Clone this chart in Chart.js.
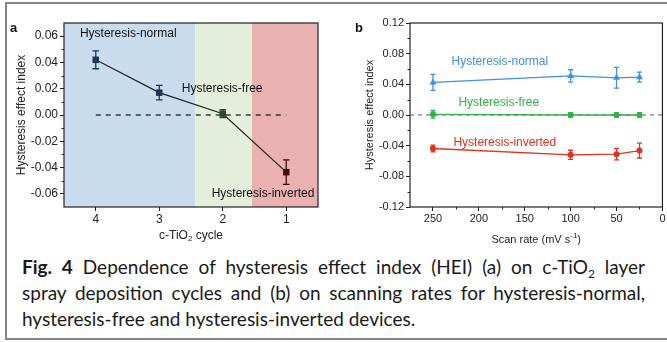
<!DOCTYPE html>
<html>
<head>
<meta charset="utf-8">
<script src="https://cdn.jsdelivr.net/npm/chart.js@4.4.1/dist/chart.umd.min.js"></script>
<style>
  body { margin: 0; background: #fff; width: 667px; height: 342px; overflow: hidden; position: relative;
         font-family: 'Liberation Sans', Arial, sans-serif; }
  #frame { position: absolute; left: 5px; top: 2px; width: 700px; height: 338px; border: 2px solid #858585; box-sizing: border-box; }
  #cA { position: absolute; left: 0; top: 0; }
  #cB { position: absolute; left: 340px; top: 0; }
  .tag { position: absolute; font-weight: bold; font-size: 13px; color: #111; }
  #caption { position: absolute; left: 22px; top: 254px; width: 623px; font-family: Lato, sans-serif;
             font-size: 19px; line-height: 26px; color: #1a1a1a; }
  .j { text-align: justify; text-align-last: justify; white-space: nowrap; }
  sub { font-size: 12px; vertical-align: -4px; line-height: 0; }
</style>
</head>
<body>
<div id="frame"></div>
<canvas id="cA" width="330" height="250"></canvas>
<canvas id="cB" width="327" height="250"></canvas>
<div class="tag" style="left:10px;top:20px">a</div>
<div class="tag" style="left:355px;top:20px">b</div>
<div id="caption">
  <div class="j"><b>Fig. 4</b> Dependence of hysteresis effect index (HEI) (a) on c-TiO<sub>2</sub> layer</div>
  <div class="j">spray deposition cycles and (b) on scanning rates for hysteresis-normal,</div>
  <div>hysteresis-free and hysteresis-inverted devices.</div>
</div>
<script>
// panel a: HEI vs c-TiO2 spray cycles
const cycles = [4, 3, 2, 1];
const heiCycle = [0.042, 0.017, 0.001, -0.0435];
const errCycle = [0.0068, 0.0055, 0.003, 0.0093];
const cycleColors = ['#1c3550', '#1c3550', '#2c4a2a', '#4d0a0a'];
const bandEdges = [4.5, 2.43, 1.54, 0.5];
const bandColors = ['#c9dcee', '#e4efdb', '#e9b1af'];
const yTicksA = [-0.06, -0.04, -0.02, 0, 0.02, 0.04, 0.06];
const yMinorA = [-0.05, -0.03, -0.01, 0.01, 0.03, 0.05];

// panel b: HEI vs scan rate
const rates = [250, 100, 50, 25];
const heiNormal = [0.0425, 0.051, 0.0485, 0.0494];
const errNormal = [0.0105, 0.008, 0.0135, 0.0065];
const heiFree = [0.0009, 0.0, 0.0, 0.0];
const errFree = [0.005, 0.003, 0.003, 0.003];
const heiInverted = [-0.0437, -0.052, -0.0511, -0.0464];
const errInverted = [0.0043, 0.006, 0.0075, 0.0097];
const xTicksB = [250, 200, 150, 100, 50, 0];
const xMinorB = [225, 175, 125, 75, 25];
const yTicksB = [-0.12, -0.08, -0.04, 0, 0.04, 0.08, 0.12];
const yMinorB = [-0.10, -0.06, -0.02, 0.02, 0.06, 0.10];

const C = { blue: '#3f8fe5', green: '#2fb34a', red: '#e3301f', ink: '#222' };

Chart.defaults.font.family = "'Liberation Sans', Arial, sans-serif";
Chart.defaults.color = C.ink;

const pts = (xs, ys) => xs.map((x, i) => ({ x, y: ys[i] }));

/** error bars, drawn under each dataset */
const errorBars = {
  id: 'errorBars',
  beforeDatasetDraw(chart, args) {
    const ds = chart.data.datasets[args.index];
    if (!ds.errors) return;
    const { ctx, scales: { y } } = chart;
    const cap = ds.cap || 3;
    ctx.save();
    ctx.lineWidth = 1.3;
    args.meta.data.forEach((pt, i) => {
      const v = ds.data[i].y, e = ds.errors[i];
      const yt = y.getPixelForValue(v + e), yb = y.getPixelForValue(v - e);
      ctx.strokeStyle = Array.isArray(ds.pointBackgroundColor) ? ds.pointBackgroundColor[i] : ds.borderColor;
      ctx.beginPath();
      ctx.moveTo(pt.x, yt); ctx.lineTo(pt.x, yb);
      ctx.moveTo(pt.x - cap, yt); ctx.lineTo(pt.x + cap, yt);
      ctx.moveTo(pt.x - cap, yb); ctx.lineTo(pt.x + cap, yb);
      ctx.stroke();
    });
    ctx.restore();
  }
};

/** background bands, frame, minor ticks, notes and x title with sub/superscripts */
function decor(cfg) {
  return {
    id: 'decor',
    beforeDraw(chart) {
      if (!cfg.bands) return;
      const { ctx, chartArea: a, scales: { x } } = chart;
      cfg.bands.colors.forEach((c, i) => {
        const x0 = x.getPixelForValue(cfg.bands.edges[i]);
        const x1 = x.getPixelForValue(cfg.bands.edges[i + 1]);
        ctx.fillStyle = c;
        ctx.fillRect(Math.min(x0, x1), a.top, Math.abs(x1 - x0), a.bottom - a.top);
      });
    },
    afterDraw(chart) {
      const { ctx, chartArea: a, scales: { x, y } } = chart;
      ctx.save();
      ctx.strokeStyle = C.ink;
      ctx.lineWidth = 1.2;
      ctx.strokeRect(a.left, a.top, a.right - a.left, a.bottom - a.top);
      ctx.lineWidth = 1;
      ctx.beginPath();
      (cfg.minorX || []).forEach(v => {
        const px = Math.round(x.getPixelForValue(v)) + 0.5;
        ctx.moveTo(px, a.bottom); ctx.lineTo(px, a.bottom + 2.5);
      });
      (cfg.minorY || []).forEach(v => {
        const py = Math.round(y.getPixelForValue(v)) + 0.5;
        ctx.moveTo(a.left, py); ctx.lineTo(a.left - 2.5, py);
      });
      ctx.stroke();

      ctx.textBaseline = 'middle';
      ctx.textAlign = 'left';
      ctx.font = '12px "Liberation Sans", Arial, sans-serif';
      (cfg.notes || []).forEach(n => {
        ctx.fillStyle = n.color;
        ctx.fillText(n.text, x.getPixelForValue(n.x), y.getPixelForValue(n.y));
      });

      // x title
      const size = cfg.titleSize;
      const small = Math.round(size * 0.7);
      const widths = cfg.xTitle.map(p => {
        ctx.font = (p.sub || p.sup ? small : size) + 'px "Liberation Sans", Arial, sans-serif';
        return ctx.measureText(p.t).width;
      });
      let cx = (a.left + a.right) / 2 - widths.reduce((s, w) => s + w, 0) / 2;
      const ty = a.bottom + cfg.titleGap;
      ctx.fillStyle = C.ink;
      cfg.xTitle.forEach((p, i) => {
        ctx.font = (p.sub || p.sup ? small : size) + 'px "Liberation Sans", Arial, sans-serif';
        ctx.fillText(p.t, cx, ty + (p.sub ? 3 : p.sup ? -4 : 0));
        cx += widths[i];
      });
      ctx.restore();
    }
  };
}

function axes(o) {
  return {
    x: {
      type: 'linear', min: o.xMin, max: o.xMax, reverse: true,
      afterBuildTicks: s => { s.ticks = o.xTicks.map(v => ({ value: v })); },
      afterFit: s => { s.height = o.xHeight; },
      grid: { drawOnChartArea: false, tickLength: 4, color: C.ink },
      border: { display: false },
      ticks: { color: C.ink, font: { size: o.tickSize }, padding: o.xPad, maxRotation: 0 },
    },
    y: {
      type: 'linear', min: o.yMin, max: o.yMax,
      afterBuildTicks: s => { s.ticks = o.yTicks.map(v => ({ value: v })); },
      afterFit: s => { s.width = o.yWidth; },
      grid: { drawOnChartArea: false, tickLength: 4, color: C.ink },
      border: { display: false },
      ticks: { color: C.ink, font: { size: o.tickSize }, padding: 2, callback: v => v.toFixed(2) },
      title: { display: true, text: 'Hysteresis effect index', color: C.ink,
               font: { size: o.titleSize }, padding: { top: o.titlePad, bottom: 0 } },
    },
  };
}

const baseOpts = (padRight, scales) => ({
  responsive: false,
  animation: false,
  events: [],
  layout: { padding: { top: 23, right: padRight, left: 0, bottom: 0 } },
  plugins: { legend: { display: false }, tooltip: { enabled: false } },
  scales,
});

new Chart(document.getElementById('cA'), {
  type: 'line',
  data: {
    datasets: [
      { data: pts(cycles, heiCycle), errors: errCycle, cap: 3.3, borderColor: '#222', borderWidth: 1.2,
        pointStyle: 'rect', pointRadius: 4.6, pointBackgroundColor: cycleColors,
        pointBorderColor: cycleColors, pointBorderWidth: 0 },
      { data: pts([4, 1], [0, 0]), borderColor: '#111', borderWidth: 1.2, borderDash: [5, 5], pointRadius: 0 },
    ],
  },
  options: baseOpts(12, axes({
    xMin: 0.5, xMax: 4.5, xTicks: cycles, xHeight: 43, xPad: 1,
    yMin: -0.07, yMax: 0.07, yTicks: yTicksA, yWidth: 64,
    tickSize: 12, titleSize: 12, titlePad: 14,
  })),
  plugins: [errorBars, decor({
    bands: { edges: bandEdges, colors: bandColors },
    minorY: yMinorA,
    notes: [
      { text: 'Hysteresis-normal', x: 4.25, y: 0.0615, color: '#111' },
      { text: 'Hysteresis-free', x: 2.645, y: 0.0199, color: '#111' },
      { text: 'Hysteresis-inverted', x: 2.174, y: -0.0596, color: '#111' },
    ],
    xTitle: [{ t: 'c-TiO' }, { t: '2', sub: true }, { t: ' cycle' }],
    titleSize: 12, titleGap: 29,
  })],
});

const series = (ys, errs, color, style, r) => ({
  data: pts(rates, ys), errors: errs, cap: 2.5, borderColor: color, backgroundColor: color,
  borderWidth: 1.3, pointStyle: style, pointRadius: r, pointBackgroundColor: color,
  pointBorderColor: color, pointBorderWidth: 0,
});

new Chart(document.getElementById('cB'), {
  type: 'line',
  data: {
    datasets: [
      series(heiNormal, errNormal, C.blue, 'triangle', 4),
      series(heiInverted, errInverted, C.red, 'circle', 3),
      series(heiFree, errFree, C.green, 'circle', 3),
      { data: pts([275, 0], [0, 0]), borderColor: '#777', borderWidth: 1.2, borderDash: [4, 4], pointRadius: 0 },
    ],
  },
  options: baseOpts(2, axes({
    xMin: 0, xMax: 275, xTicks: xTicksB, xHeight: 43, xPad: 1.5,
    yMin: -0.12, yMax: 0.12, yTicks: yTicksB, yWidth: 70,
    tickSize: 11, titleSize: 11, titlePad: 23,
  })),
  plugins: [errorBars, decor({
    minorX: xMinorB,
    minorY: yMinorB,
    notes: [
      { text: 'Hysteresis-normal', x: 229.8, y: 0.0689, color: C.blue },
      { text: 'Hysteresis-free', x: 222.3, y: 0.0156, color: C.green },
      { text: 'Hysteresis-inverted', x: 227.7, y: -0.0364, color: C.red },
    ],
    xTitle: [{ t: 'Scan rate (mV s' }, { t: '-1', sup: true }, { t: ')' }],
    titleSize: 11, titleGap: 33,
  })],
});
</script>
</body>
</html>
